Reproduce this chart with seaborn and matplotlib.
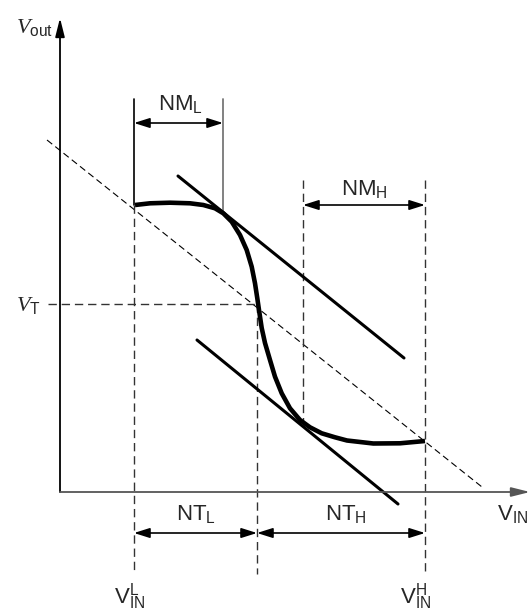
import matplotlib
matplotlib.use("Agg")
import matplotlib.pyplot as plt
import seaborn as sns
import pandas as pd

# -----------------------------
# Diagram data (pixel space of the 531x614 picture, y grows downward)
# -----------------------------
curve_x = [135, 150, 170, 190, 203.3, 215, 223.3, 231.7, 240, 246.7, 251.7, 255, 257.3,
           259, 261.7, 265, 270, 275, 281.7, 290, 300, 310, 321.7, 335, 347, 373.3, 400, 425]
curve_y = [205, 203.3, 202.7, 203.3, 205, 208.3, 213.3, 221.7, 235, 250, 266.7, 283.3, 298.3,
           310, 328, 343, 360, 376.7, 393.3, 408.3, 420, 427.3, 433.3, 437.3, 440.5, 443.5, 443.3, 441]

diag_x = [47, 482]
diag_y = [140, 487]
upper_tan_x = [178, 404]
upper_tan_y = [176, 358]
lower_tan_x = [197, 398]
lower_tan_y = [340, 504]

origin = (60, 492)
v_in_low = 134
v_switch = 257
v_in_high = 425
nm_h_left = 303
nm_l_right = 223
v_t_level = 304

sns.set_theme(style="white")
plt.rcParams["mathtext.fontset"] = "custom"
plt.rcParams["mathtext.rm"] = "Liberation Sans"
plt.rcParams["mathtext.it"] = "Liberation Serif:italic"
plt.rcParams["font.family"] = ["Liberation Sans", "DejaVu Sans"]

fig = plt.figure(figsize=(5.31, 6.14), dpi=100)
ax = fig.add_axes([0, 0, 1, 1])

dash = (0, (6, 3.5))

# axes with arrows
ax_arrow = dict(arrowstyle="-|>,head_length=0.8,head_width=0.2", lw=1.3,
                mutation_scale=14, shrinkA=0, shrinkB=0)
ax.annotate("", xy=(origin[0], 18), xytext=(origin[0], origin[1]),
            arrowprops=dict(color="black", **ax_arrow))
ax.annotate("", xy=(530, origin[1]), xytext=(origin[0], origin[1]),
            arrowprops=dict(color="#555555", **ax_arrow))

# guide lines
ax.plot(diag_x, diag_y, color="black", lw=0.8, ls=dash)
ax.plot([48, v_switch], [v_t_level, v_t_level], color="#333333", lw=1, ls=dash)
ax.plot([v_in_low, v_in_low], [99, 205], color="black", lw=1.2)
ax.plot([v_in_low, v_in_low], [205, 574], color="#333333", lw=1, ls=dash)
ax.plot([nm_l_right, nm_l_right], [99, 212], color="#777777", lw=1.3)
ax.plot([v_switch, v_switch], [v_t_level, 574], color="#333333", lw=1, ls=dash)
ax.plot([nm_h_left, nm_h_left], [180, 423], color="#333333", lw=1, ls=dash)
ax.plot([v_in_high, v_in_high], [180, 574], color="#333333", lw=1, ls=dash)

# tangents and transfer curve
sns.lineplot(x=upper_tan_x, y=upper_tan_y, color="black", lw=2.2, ax=ax, sort=False)
sns.lineplot(x=lower_tan_x, y=lower_tan_y, color="black", lw=2.2, ax=ax, sort=False)
curve = pd.DataFrame({"x": curve_x, "y": curve_y})
sns.lineplot(data=curve, x="x", y="y", color="black", lw=3.3, ax=ax, sort=False,
             solid_capstyle="butt")
ax.set_xlim(0, 531)
ax.set_ylim(614, 0)
ax.axis("off")

# dimension arrows
arr = dict(arrowstyle="<|-|>,head_length=0.95,head_width=0.3", color="black",
           lw=1.2, mutation_scale=10, shrinkA=0, shrinkB=0)
ax.annotate("", xy=(v_in_low, 123), xytext=(nm_l_right, 123), arrowprops=arr)
ax.annotate("", xy=(nm_h_left, 205), xytext=(v_in_high, 205), arrowprops=arr)
ax.annotate("", xy=(v_in_low, 533), xytext=(v_switch, 533), arrowprops=arr)
ax.annotate("", xy=(v_switch, 533), xytext=(v_in_high, 533), arrowprops=arr)

# labels
fs = 16
ax.text(35, 27, r"$V_{\mathrm{out}}$", fontsize=fs, ha="center", va="center")
ax.text(28, 306, r"$V_{\mathrm{T}}$", fontsize=fs, ha="center", va="center")
ax.text(180, 104, r"$\mathrm{NM}_{\mathrm{L}}$", fontsize=fs, ha="center", va="center")
ax.text(364, 189, r"$\mathrm{NM}_{\mathrm{H}}$", fontsize=fs, ha="center", va="center")
ax.text(196, 514, r"$\mathrm{NT}_{\mathrm{L}}$", fontsize=fs, ha="center", va="center")
ax.text(346, 514, r"$\mathrm{NT}_{\mathrm{H}}$", fontsize=fs, ha="center", va="center")
ax.text(513, 514, r"$\mathrm{V}_{\mathrm{IN}}$", fontsize=fs, ha="center", va="center")
ax.text(130, 597, r"$\mathrm{V}_{\mathrm{IN}}^{\mathrm{L}}$", fontsize=fs, ha="center", va="center")
ax.text(416, 597, r"$\mathrm{V}_{\mathrm{IN}}^{\mathrm{H}}$", fontsize=fs, ha="center", va="center")

fig.savefig("out.png", dpi=100, facecolor="white")
plt.close(fig)
